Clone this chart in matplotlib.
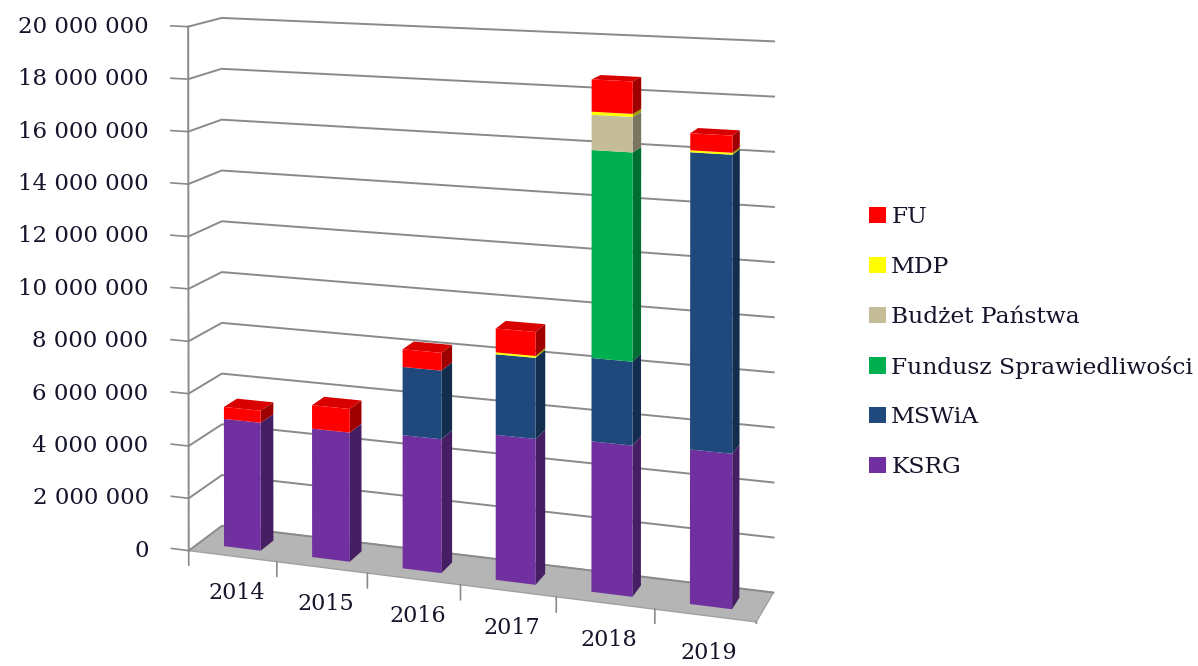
import numpy as np
import matplotlib.pyplot as plt
from matplotlib.patches import Patch
from matplotlib.colors import to_rgba
from mpl_toolkits.mplot3d import proj3d

# values (PLN)
years = ['2014', '2015', '2016', '2017', '2018', '2019']
ksrg = [4890000, 4870000, 4980000, 5350000, 5470000, 5540000]
mswia = [0, 0, 2550000, 2970000, 3030000, 10640000]
fundusz = [0, 0, 0, 0, 7550000, 0]
budzet = [0, 0, 0, 0, 1280000, 0]
mdp = [0, 0, 0, 70000, 110000, 70000]
fu = [460000, 890000, 660000, 880000, 1170000, 610000]

# bottom -> top
series = [
    ('KSRG', ksrg, '#7030A0'),
    ('MSWiA', mswia, '#1F497D'),
    ('Fundusz Sprawiedliwości', fundusz, '#00B050'),
    ('Budżet Państwa', budzet, '#C4BD97'),
    ('MDP', mdp, '#FFFF00'),
    ('FU', fu, '#FF0000'),
]

plt.rcParams['font.family'] = ['DejaVu Serif']
txt = '#14142a'
grid = '#8A8A8A'
ZMAX = 20000000
# the 3d box is made much taller than the chart so the camera looks level
# (verticals stay vertical, like Excel's 3d columns) from high above the floor
ZBOX = 60000000


def darker(c, f):
    r, g, b, a = to_rgba(c)
    return (r * f, g * f, b * f, a)


fig = plt.figure(figsize=(11.98, 6.66), dpi=100)
ax = fig.add_axes([-0.3225, 0.0623, 1.398, 2.515], projection='3d')
ax.set_proj_type('persp', focal_length=0.255)
ax.view_init(elev=0.5, azim=-71)
ax.set_box_aspect((5.93, 0.8, 5.4 * ZBOX / ZMAX))
ax.computed_zorder = False

w = 0.42
d = 0.4
xs, ys, zs, dzs, cols = [], [], [], [], []
none = (0, 0, 0, 0)
for i in range(len(years)):
    bottom = 0
    layers = [(v[i], c) for _, v, c in series if v[i] > 0]
    for k, (val, c) in enumerate(layers):
        xs.append(i - w / 2)
        ys.append(0.5 - d / 2)
        zs.append(bottom)
        dzs.append(val)
        top = darker(c, 0.85) if k == len(layers) - 1 else none
        # faces: -z, +z, -y, +y, -x, +x
        cols += [none, top, c, none, none, darker(c, 0.62)]
        bottom += val

ax.bar3d(xs, ys, zs, w, d, dzs, color=cols, shade=False, zorder=5)

# gridlines on side + back wall, value axis on the front-left edge
zt = np.arange(0, ZMAX + 1, 2000000)
for v in zt:
    ax.plot([-0.5, -0.5, 5.5], [0, 1, 1], [v, v, v], color=grid, lw=1.4, zorder=1)
    ax.plot([-0.5, -0.7], [0, 0], [v, v], color=grid, lw=1.2, zorder=1)
ax.plot([-0.5, -0.5], [0, 0], [0, ZMAX], color=grid, lw=1.4, zorder=1)

# tick marks between categories on the front edge
for b in np.arange(-0.5, 6, 1):
    ax.plot([b, b], [0, 0], [0, -550000], color=grid, lw=1.2, zorder=1)

ax.set_xlim(-0.5, 5.5)
ax.set_ylim(0, 1)
ax.set_zlim(0, ZBOX)
ax.grid(False)
ax.set_xticks([])
ax.set_yticks([])
ax.set_zticks([])
for a in (ax.xaxis, ax.yaxis):
    a.set_pane_color((1, 1, 1, 0))
ax.zaxis.set_pane_color((0.71, 0.71, 0.71, 1))
ax.zaxis.pane.set_edgecolor('#A0A0A0')
for a in (ax.xaxis, ax.yaxis, ax.zaxis):
    a.line.set_color((0, 0, 0, 0))

# tick labels: project the 3d anchor points, then place plain 2d text
fig.canvas.draw()
M = ax.get_proj()
px, py, _ = proj3d.proj_transform(np.full(len(zt), -0.5), np.zeros(len(zt)), zt, M)
for v, a, b in zip(zt, px, py):
    ax.annotate(f'{int(v):,}'.replace(',', ' '), xy=(a, b), xycoords='data',
                xytext=(-40, 0), textcoords='offset pixels', ha='right', va='center',
                fontsize=16.5, color=txt)
cx = np.arange(len(years), dtype=float)
px, py, _ = proj3d.proj_transform(cx, np.zeros(len(cx)), np.zeros(len(cx)), M)
for lab, a, b in zip(years, px, py):
    ax.annotate(lab, xy=(a, b), xycoords='data', xytext=(4, -37),
                textcoords='offset pixels', ha='center', va='center',
                fontsize=16, color=txt)

handles = [Patch(facecolor=c, edgecolor='none', label=n) for n, _, c in series[::-1]]
leg = fig.legend(handles=handles, loc='center left', bbox_to_anchor=(0.708, 0.486), frameon=False,
                 fontsize=16.8, handlelength=0.7, handleheight=0.7, handletextpad=0.25,
                 labelspacing=1.19)
for t in leg.get_texts():
    t.set_color(txt)

fig.savefig('out.png', dpi=100)
